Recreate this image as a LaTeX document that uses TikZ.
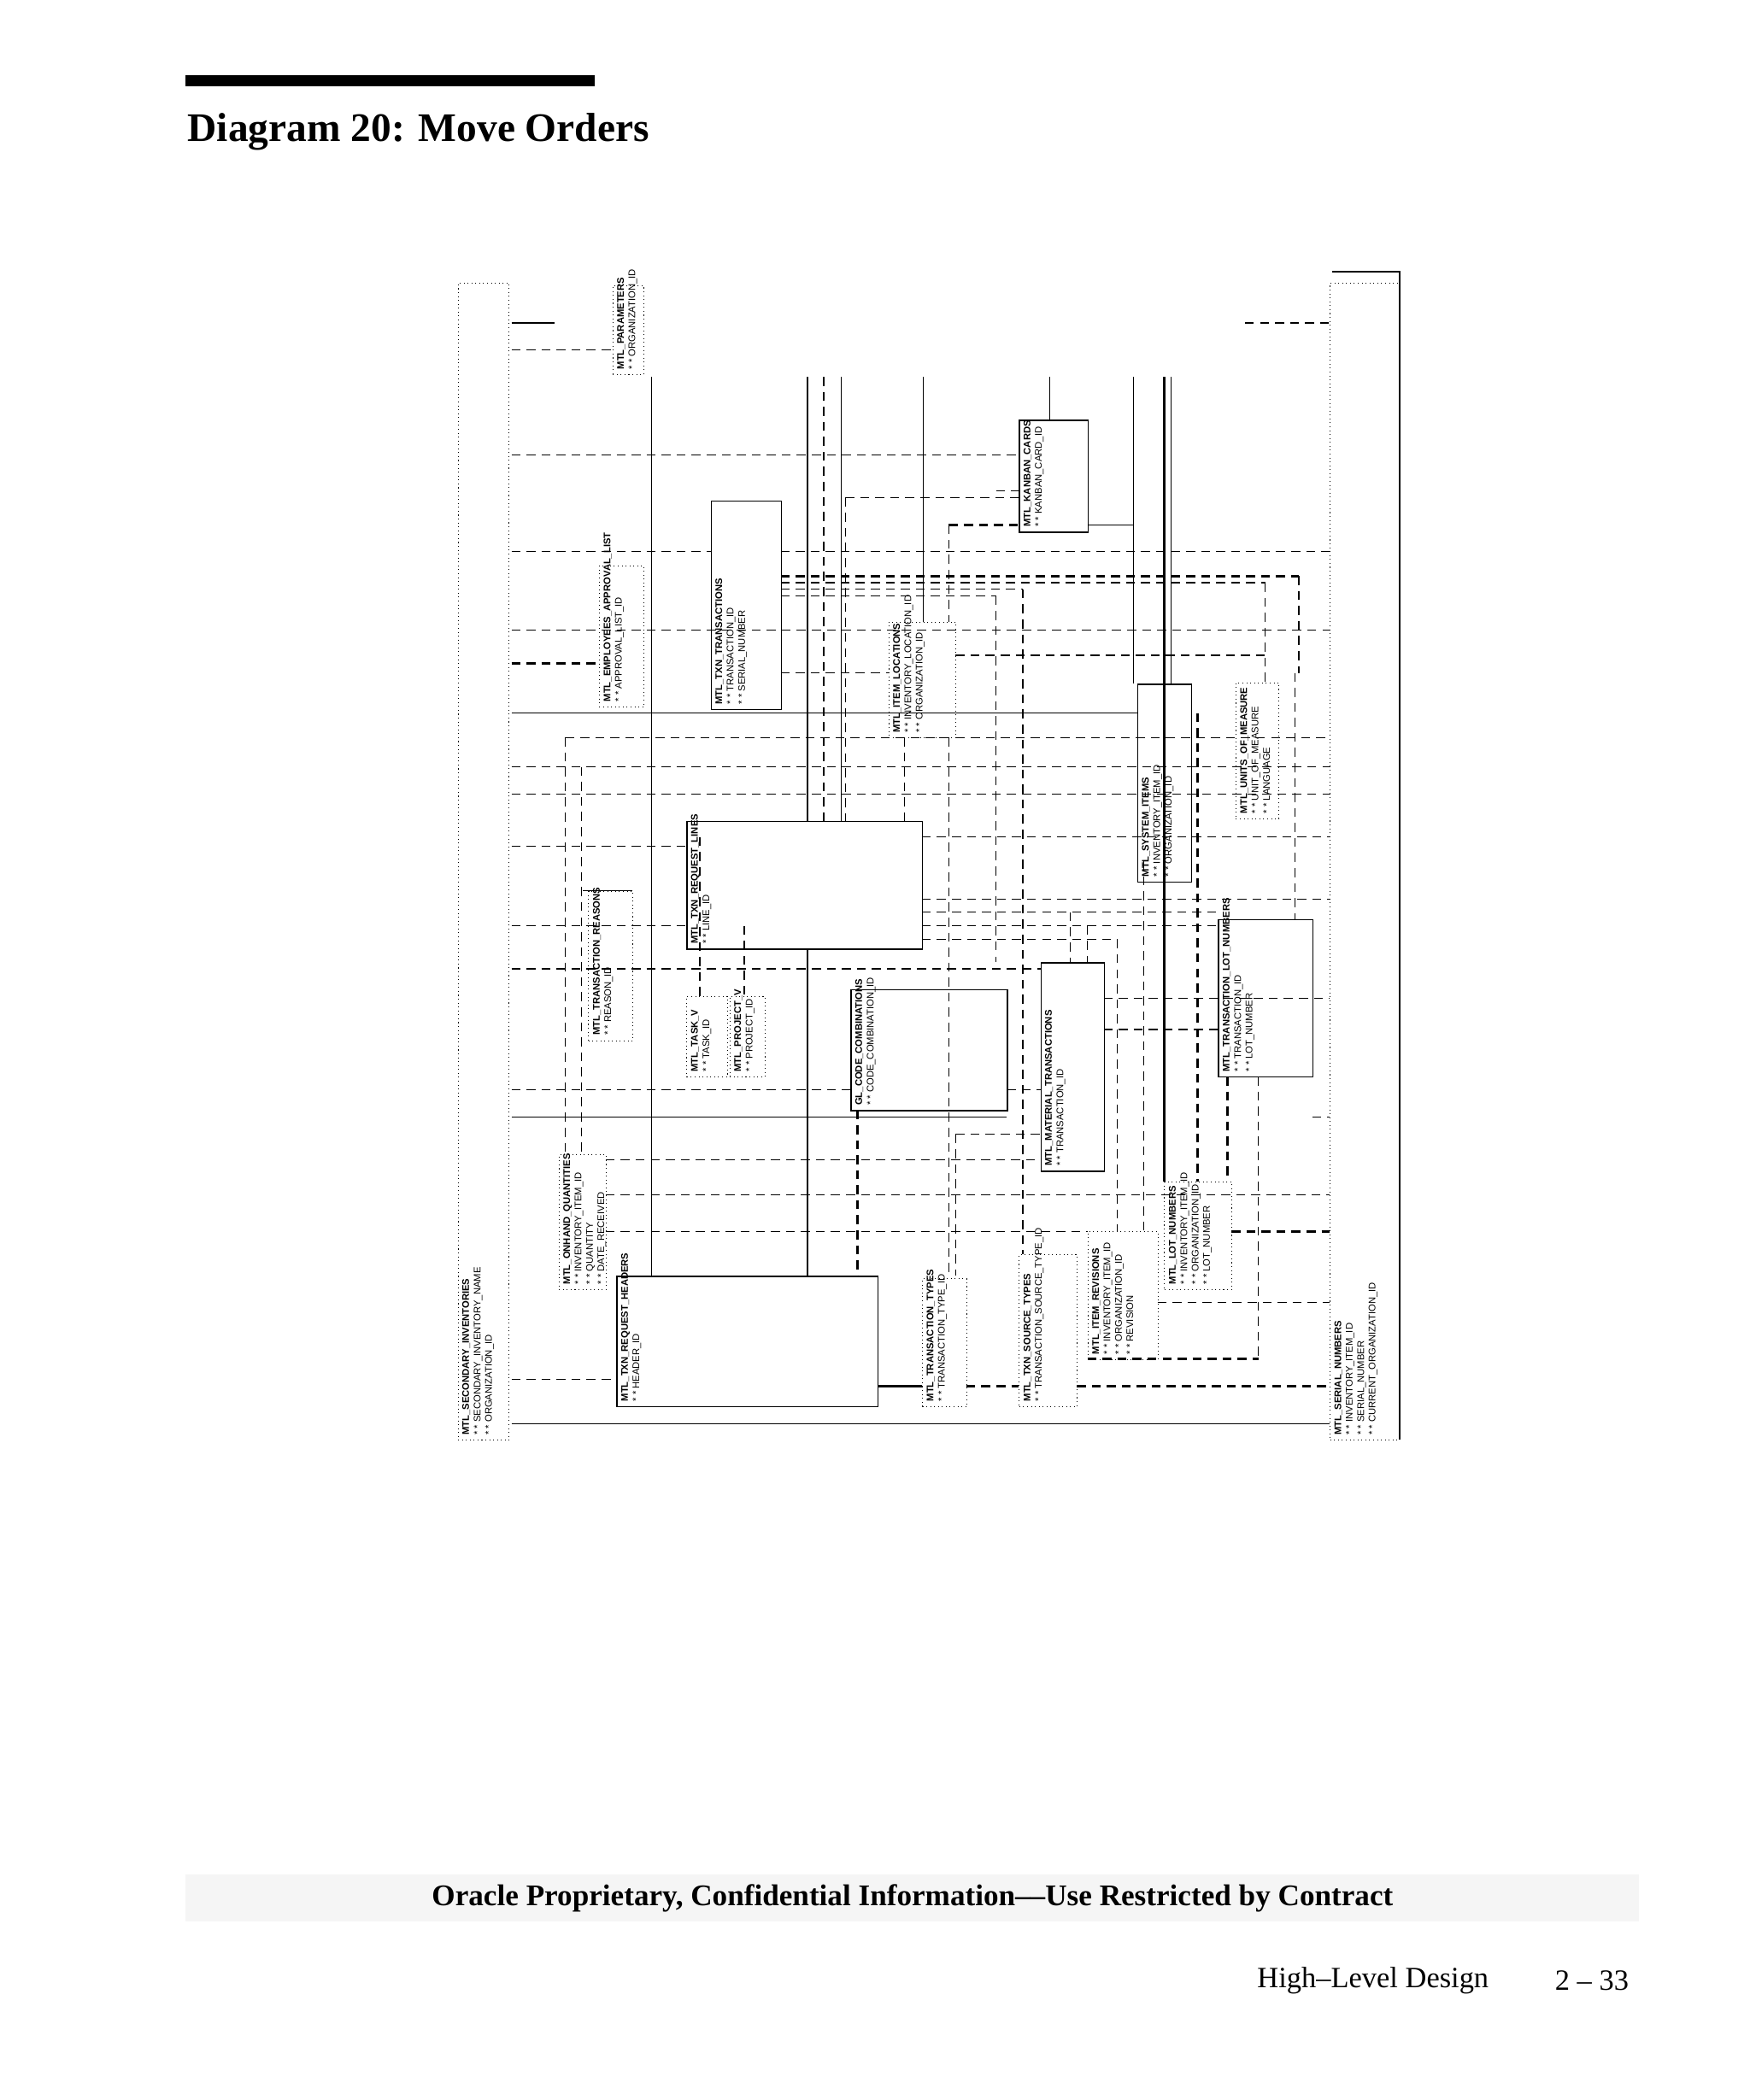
\documentclass[tikz,border=0pt]{standalone}
\usepackage{fontspec}
\setmainfont{Liberation Serif}
\newfontfamily\erdfont{Liberation Sans}
\begin{document}
\begin{tikzpicture}[x=0.1575mm,y=-0.1575mm,
  ent/.style={draw,densely dotted,line width=0.3pt,inner sep=0pt},
  entb/.style={draw,line width=0.4pt,inner sep=0pt},
  lab/.style={font=\erdfont\fontsize{3.2}{3.8}\selectfont,align=left,inner sep=0.5pt,rotate=90,anchor=north west},
  rel/.style={dashed,line width=0.35pt,dash pattern=on 3pt off 2pt},
  relb/.style={dashed,line width=0.9pt,dash pattern=on 3pt off 2pt},
  sol/.style={line width=0.4pt},
  solb/.style={line width=1pt}]
\useasboundingbox (0,0) rectangle (1300,1560.6);
% header
\fill (138,56) rectangle (442,64);
\node[anchor=west,font=\bfseries\fontsize{13.5}{16}\selectfont,inner sep=0] (title) at (139,98) {Diagram 20: Move Orders};
% footer
\fill[gray!8] (138,1393) rectangle (1218,1428);
\node[font=\bfseries\fontsize{10}{12}\selectfont] (foot) at (678,1411) {Oracle Proprietary, Confidential Information{–}{–}Use Restricted by Contract};
\node[anchor=east,font=\fontsize{9.8}{12}\selectfont] (sec) at (1114,1472) {High–Level Design};
\node[anchor=east,font=\fontsize{9.8}{12}\selectfont] (pg) at (1218,1472) {2 – 33};
\newcommand\entity[6][ent]{\node[#1,anchor=north west,minimum width=#5*0.1575mm,minimum height=#6*0.1575mm] (#2) at (#3,#4) {};}
% entities
\entity{secinv}{340}{210}{38}{860}
\entity{serial}{988}{210}{52}{860}
\entity{param}{455}{212}{23}{66}
\entity[entb]{txntr}{528}{372}{52}{155}
\entity[entb]{kanban}{757}{312}{51}{83}
\entity{itemloc}{660}{462}{50}{86}
\entity{empl}{445}{420}{33}{105}
\entity[entb]{reqline}{510}{610}{175}{95}
\entity[entb]{sysitem}{845}{508}{40}{147}
\entity{uom}{918}{507}{32}{101}
\entity{reason}{437}{662}{33}{111}
\entity{task}{510}{740}{30}{60}
\entity{proj}{542}{740}{26}{60}
\entity[entb]{glcc}{632}{735}{116}{90}
\entity[entb]{mmt}{773}{715}{47}{155}
\entity[entb]{tlot}{905}{683}{70}{117}
\entity{lotn}{865}{878}{50}{80}
\entity{irev}{808}{915}{52}{95}
\entity{srctype}{757}{932}{43}{113}
\entity{trtype}{685}{950}{33}{95}
\entity[entb]{reqhdr}{458}{948}{194}{97}
\entity{onhand}{415}{858}{35}{100}
% labels
\node[lab] at (342,1068) {\textbf{MTL\_SECONDARY\_INVENTORIES}\\* * SECONDARY\_INVENTORY\_NAME\\* * ORGANIZATION\_ID};
\node[lab] at (990,1068) {\textbf{MTL\_SERIAL\_NUMBERS}\\* * INVENTORY\_ITEM\_ID\\* * SERIAL\_NUMBER\\* * CURRENT\_ORGANIZATION\_ID};
\node[lab] at (457,276) {\textbf{MTL\_PARAMETERS}\\* * ORGANIZATION\_ID};
\node[lab] at (530,525) {\textbf{MTL\_TXN\_TRANSACTIONS}\\* * TRANSACTION\_ID\\* * SERIAL\_NUMBER};
\node[lab] at (759,393) {\textbf{MTL\_KANBAN\_CARDS}\\* * KANBAN\_CARD\_ID};
\node[lab] at (662,546) {\textbf{MTL\_ITEM\_LOCATIONS}\\* * INVENTORY\_LOCATION\_ID\\* * ORGANIZATION\_ID};
\node[lab] at (447,523) {\textbf{MTL\_EMPLOYEES\_APPROVAL\_LIST}\\* * APPROVAL\_LIST\_ID};
\node[lab] at (512,703) {\textbf{MTL\_TXN\_REQUEST\_LINES}\\* * LINE\_ID};
\node[lab] at (847,653) {\textbf{MTL\_SYSTEM\_ITEMS}\\* * INVENTORY\_ITEM\_ID\\* * ORGANIZATION\_ID};
\node[lab] at (920,606) {\textbf{MTL\_UNITS\_OF\_MEASURE}\\* * UNIT\_OF\_MEASURE\\* * LANGUAGE};
\node[lab] at (439,771) {\textbf{MTL\_TRANSACTION\_REASONS}\\* * REASON\_ID};
\node[lab] at (512,798) {\textbf{MTL\_TASK\_V}\\* * TASK\_ID};
\node[lab] at (544,798) {\textbf{MTL\_PROJECT\_V}\\* * PROJECT\_ID};
\node[lab] at (634,823) {\textbf{GL\_CODE\_COMBINATIONS}\\* * CODE\_COMBINATION\_ID};
\node[lab] at (775,868) {\textbf{MTL\_MATERIAL\_TRANSACTIONS}\\* * TRANSACTION\_ID};
\node[lab] at (907,798) {\textbf{MTL\_TRANSACTION\_LOT\_NUMBERS}\\* * TRANSACTION\_ID\\* * LOT\_NUMBER};
\node[lab] at (867,956) {\textbf{MTL\_LOT\_NUMBERS}\\* * INVENTORY\_ITEM\_ID\\* * ORGANIZATION\_ID\\* * LOT\_NUMBER};
\node[lab] at (810,1008) {\textbf{MTL\_ITEM\_REVISIONS}\\* * INVENTORY\_ITEM\_ID\\* * ORGANIZATION\_ID\\* * REVISION};
\node[lab] at (759,1043) {\textbf{MTL\_TXN\_SOURCE\_TYPES}\\* * TRANSACTION\_SOURCE\_TYPE\_ID};
\node[lab] at (687,1043) {\textbf{MTL\_TRANSACTION\_TYPES}\\* * TRANSACTION\_TYPE\_ID};
\node[lab] at (460,1043) {\textbf{MTL\_TXN\_REQUEST\_HEADERS}\\* * HEADER\_ID};
\node[lab] at (417,956) {\textbf{MTL\_ONHAND\_QUANTITIES}\\* * INVENTORY\_ITEM\_ID\\* * QUANTITY\\* * DATE\_RECEIVED};
% corner top right
\draw[sol] (990,202) -- (1040,202) -- (1040,1070);
% horizontal relations
\draw[sol] (380,240) -- (412,240);
\draw[rel] (925,240) -- (988,240);
\draw[rel] (380,260) -- (455,260);
\draw[rel] (380,338) -- (757,338);
\draw[rel] (740,365) -- (757,365);
\draw[sol] (808,390) -- (842,390);
\draw[relb] (705,390) -- (757,390);
\draw[rel] (380,410) -- (528,410);
\draw[rel] (580,410) -- (988,410);
\draw[relb] (580,428) -- (965,428);
\draw[rel] (580,433) -- (940,433);
\draw[rel] (580,438) -- (760,438);
\draw[rel] (580,443) -- (740,443);
\draw[rel] (380,468) -- (988,468);
\draw[relb] (380,493) -- (445,493);
\draw[rel] (580,500) -- (660,500);
\draw[rel] (710,487) -- (940,487);
\draw[sol] (380,530) -- (845,530);
\draw[rel] (420,548) -- (988,548);
\draw[rel] (380,570) -- (988,570);
\draw[rel] (380,590) -- (988,590);
\draw[rel] (380,629) -- (510,629);
\draw[rel] (685,622) -- (988,622);
\draw[rel] (685,668) -- (988,668);
\draw[rel] (380,688) -- (510,688);
\draw[rel] (685,678) -- (905,678);
\draw[rel] (685,688) -- (905,688);
\draw[rel] (685,698) -- (830,698);
\draw[rel] (380,720) -- (773,720);
\draw[rel] (820,742) -- (988,742);
\draw[rel] (820,765) -- (905,765);
\draw[rel] (380,810) -- (632,810);
\draw[rel] (748,810) -- (773,810);
\draw[sol] (380,830) -- (748,830);
\draw[rel] (975,830) -- (988,830);
\draw[rel] (450,862) -- (773,862);
\draw[rel] (450,888) -- (988,888);
\draw[rel] (450,915) -- (808,915);
\draw[relb] (915,915) -- (988,915);
\draw[rel] (860,968) -- (988,968);
\draw[relb] (808,1010) -- (935,1010);
\draw[rel] (380,1025) -- (458,1025);
\draw[solb] (652,1030) -- (685,1030);
\draw[relb] (718,1030) -- (757,1030);
\draw[relb] (800,1030) -- (988,1030);
\draw[sol] (380,1058) -- (988,1058);
% vertical relations
\draw[sol] (484,280) -- (484,948);
\draw[sol] (600,280) -- (600,610);
\draw[sol] (600,705) -- (600,948);
\draw[rel] (612,280) -- (612,610);
\draw[sol] (625,280) -- (625,610);
\draw[sol] (686,280) -- (686,462);
\draw[rel] (628,370) -- (628,610) ; 
\draw[rel] (628,370) -- (757,370);
\draw[rel] (672,548) -- (672,610);
\draw[rel] (705,548) -- (705,948);
\draw[rel] (705,390) -- (705,462);
\draw[sol] (780,280) -- (780,312);
\draw[sol] (842,280) -- (842,508);
\draw[solb] (865,280) -- (865,878);
\draw[sol] (870,280) -- (870,508);
\draw[rel] (420,548) -- (420,858);
\draw[rel] (432,570) -- (432,858);
\draw[rel] (520,622) -- (520,740);
\draw[rel] (553,688) -- (553,740);
\draw[relb] (637,825) -- (637,948);
\draw[rel] (710,843) -- (710,948);
\draw[rel] (710,843) -- (773,843);
\draw[rel] (760,438) -- (760,932);
\draw[rel] (740,443) -- (740,715);
\draw[relb] (890,530) -- (890,878);
\draw[relb] (912,800) -- (912,878);
\draw[rel] (935,800) -- (935,1010);
\draw[rel] (962,500) -- (962,683);
\draw[rel] (940,433) -- (940,507);
\draw[rel] (965,428) -- (965,500);
\draw[rel] (830,698) -- (830,915);
\draw[rel] (850,640) -- (850,915);
\draw[rel] (795,678) -- (795,715);
\draw[rel] (808,688) -- (808,715);
\draw[sol] (433,662) -- (470,662);
\end{tikzpicture}
\end{document}
